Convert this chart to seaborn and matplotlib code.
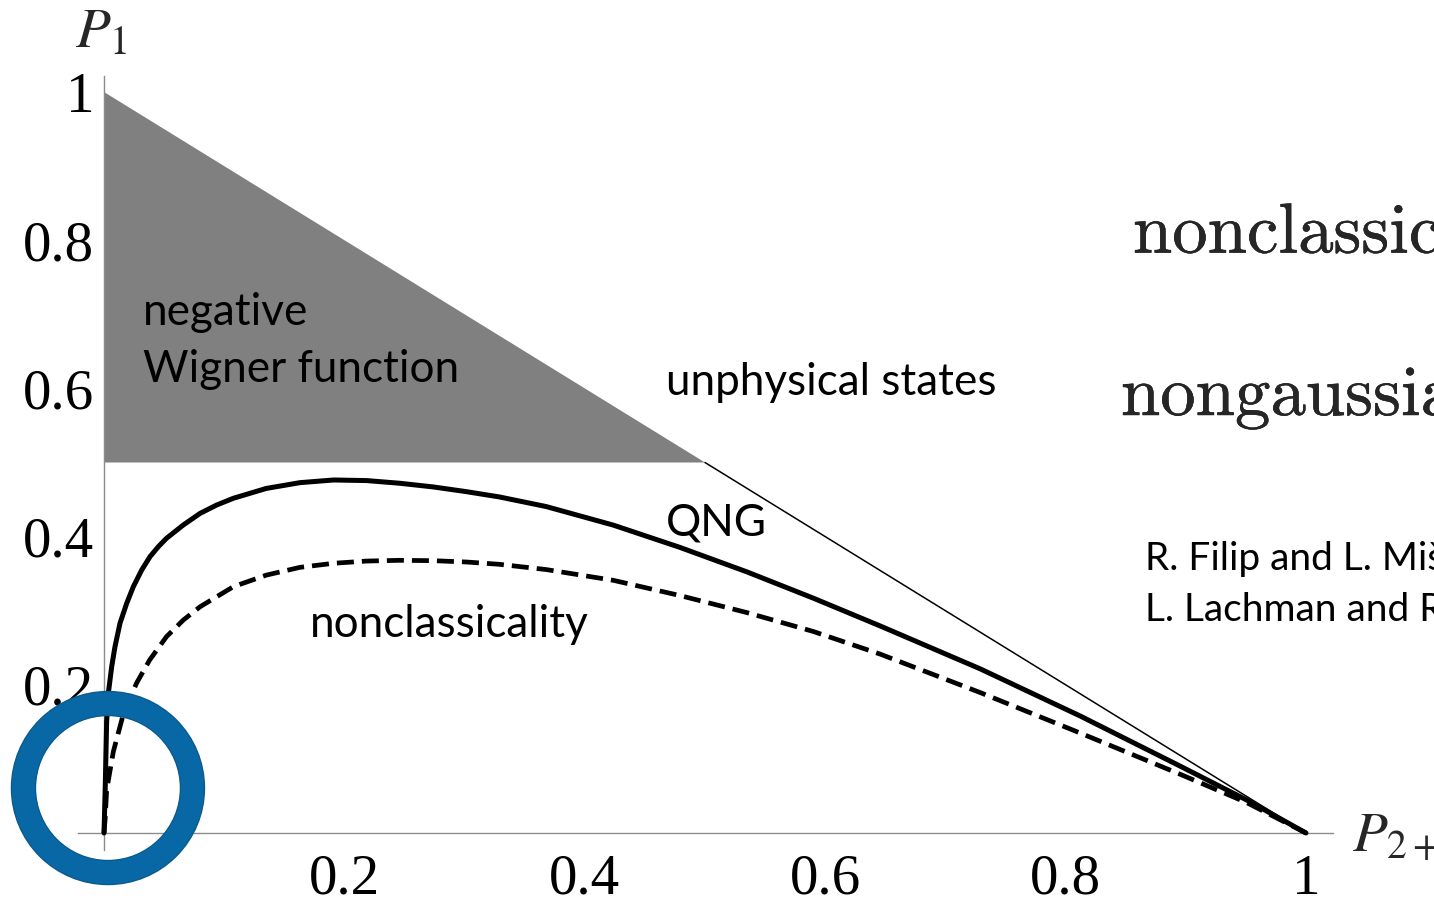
import matplotlib
matplotlib.use("Agg")
import matplotlib.pyplot as plt
import matplotlib.patheffects as pe
from matplotlib.patches import Ellipse
import seaborn as sns

# Boundary curves in the (P2+, P1) plane
qng_x = [0, 0.001, 0.0022, 0.0036, 0.0064, 0.00915, 0.0133, 0.0189, 0.0244, 0.0314,
         0.0383, 0.0452, 0.052, 0.066, 0.080, 0.0937, 0.1076, 0.135, 0.163, 0.191,
         0.2185, 0.246, 0.274, 0.3017, 0.329, 0.368, 0.4237, 0.479, 0.5347, 0.590,
         0.6456, 0.729, 0.812, 0.895, 0.9507, 1.0]
qng_y = [0, 0.06, 0.15, 0.1885, 0.2245, 0.2515, 0.283, 0.310, 0.3324, 0.355,
         0.373, 0.3864, 0.3977, 0.4157, 0.4314, 0.4426, 0.4517, 0.465, 0.4728, 0.4764,
         0.4756, 0.472, 0.467, 0.4606, 0.4535, 0.4405, 0.4155, 0.3855, 0.3525, 0.317,
         0.2795, 0.2215, 0.158, 0.0905, 0.0445, 0]

ncl_x = [0, 0.001, 0.0022, 0.0078, 0.016, 0.027, 0.038, 0.052, 0.066, 0.080,
         0.1076, 0.135, 0.163, 0.191, 0.2185, 0.246, 0.274, 0.3017, 0.329, 0.368,
         0.4237, 0.479, 0.5347, 0.590, 0.6456, 0.729, 0.812, 0.895, 0.9507, 1.0]
ncl_y = [0, 0.02, 0.058, 0.11, 0.16, 0.202, 0.2335, 0.265, 0.2874, 0.3054,
         0.3324, 0.348, 0.3585, 0.364, 0.367, 0.368, 0.3675, 0.3657, 0.3626, 0.3555,
         0.341, 0.3205, 0.2975, 0.272, 0.2415, 0.1895, 0.135, 0.0795, 0.041, 0]

# Physical limit P1 + P2+ = 1
limit_x = [0.5, 1.0]
limit_y = [0.5, 0.0]

# Region of negative Wigner function
wigner_x = [0.0, 0.0, 0.5]
wigner_y = [0.5, 1.0, 0.5]

tick_vals = [0.2, 0.4, 0.6, 0.8, 1.0]
tick_text = ["0.2", "0.4", "0.6", "0.8", "1"]

sns.set_style("white")
plt.rcParams["font.family"] = ["Lato", "DejaVu Sans"]
plt.rcParams["mathtext.fontset"] = "stix"

fig = plt.figure(figsize=(14.34, 8.98), dpi=100)
ax = fig.add_axes([0, 0, 1, 1])
ax.set_xlim(-0.08652, 1.10649)
ax.set_ylim(-0.08772, 1.12416)
ax.patch.set_alpha(0)

axis_grey = "#8c8c8c"
for side in ("top", "right"):
    ax.spines[side].set_visible(False)
for side in ("left", "bottom"):
    ax.spines[side].set_position(("data", 0))
    ax.spines[side].set_color(axis_grey)
    ax.spines[side].set_linewidth(1.0)
ax.spines["left"].set_bounds(-0.023, 1.0216)
ax.spines["bottom"].set_bounds(-0.0216, 1.0225)

ax.set_xticks(tick_vals)
ax.set_yticks(tick_vals)
ax.set_xticklabels(tick_text, fontfamily="Liberation Serif")
ax.set_yticklabels(tick_text, fontfamily="Liberation Serif")
ax.tick_params(direction="in", length=8, width=1, color=axis_grey,
               labelsize=41, labelcolor="black")
ax.tick_params(axis="y", pad=7)
ax.tick_params(axis="x", pad=15)

# shaded region and boundaries
ax.fill(wigner_x, wigner_y, color="#808080", lw=0, zorder=1)
sns.lineplot(x=limit_x, y=limit_y, ax=ax, color="black", lw=1.1,
             sort=False, estimator=None, zorder=2)
sns.lineplot(x=qng_x, y=qng_y, ax=ax, color="black", lw=3.6,
             sort=False, estimator=None, zorder=3)
sns.lineplot(x=ncl_x, y=ncl_y, ax=ax, color="black", lw=3.4,
             sort=False, estimator=None, zorder=3)
ax.lines[-1].set_dashes((3.6, 1.7))
for ln in ax.lines:
    ln.set_solid_joinstyle("round")
    ln.set_dash_joinstyle("round")

# region labels
lab = dict(fontsize=31.7, color="black", va="baseline", ha="left")
ax.text(0.0323, 0.686, "negative", **lab)
ax.text(0.0323, 0.609, "Wigner function", **lab)
ax.text(0.4673, 0.591, "unphysical states", **lab)
ax.text(0.4673, 0.402, "QNG", **lab)
ax.text(0.1711, 0.2645, "nonclassicality", **lab)

# criteria titles and references on the right
bold_edge = [pe.withStroke(linewidth=0.3, foreground="black")]
ax.text(0.8560, 0.7827, r"$\mathrm{nonclassicality}$", fontsize=51,
        math_fontfamily="cm", va="baseline", ha="left", path_effects=bold_edge)
ax.text(0.8460, 0.564, r"$\mathrm{nongaussianity}$", fontsize=51,
        math_fontfamily="cm", va="baseline", ha="left", path_effects=bold_edge)
ref = dict(fontsize=28, color="black", va="baseline", ha="left")
ax.text(0.8660, 0.355, "R. Filip and L. Mišta", **ref)
ax.text(0.8660, 0.286, "L. Lachman and R. Filip", **ref)

# axis labels
ax.text(-0.024, 1.0607, r"$P_1$", fontsize=41, va="baseline", ha="left")
ax.text(1.0383, -0.0256, r"$P_{2+}$", fontsize=41, va="baseline", ha="left")

# highlight ring at the origin
ring_c = (0.0033, 0.0607)
ax.add_patch(Ellipse(ring_c, 2 * 84.5 / 1202, 2 * 84.5 / 741, fill=False,
                     edgecolor="#0868A6", lw=17.3, zorder=5))
for r in (96.5, 72.5):
    ax.add_patch(Ellipse(ring_c, 2 * r / 1202, 2 * r / 741, fill=False,
                         edgecolor="#0A5A8E", lw=1.0, zorder=6))

fig.savefig("out.png", dpi=100)
